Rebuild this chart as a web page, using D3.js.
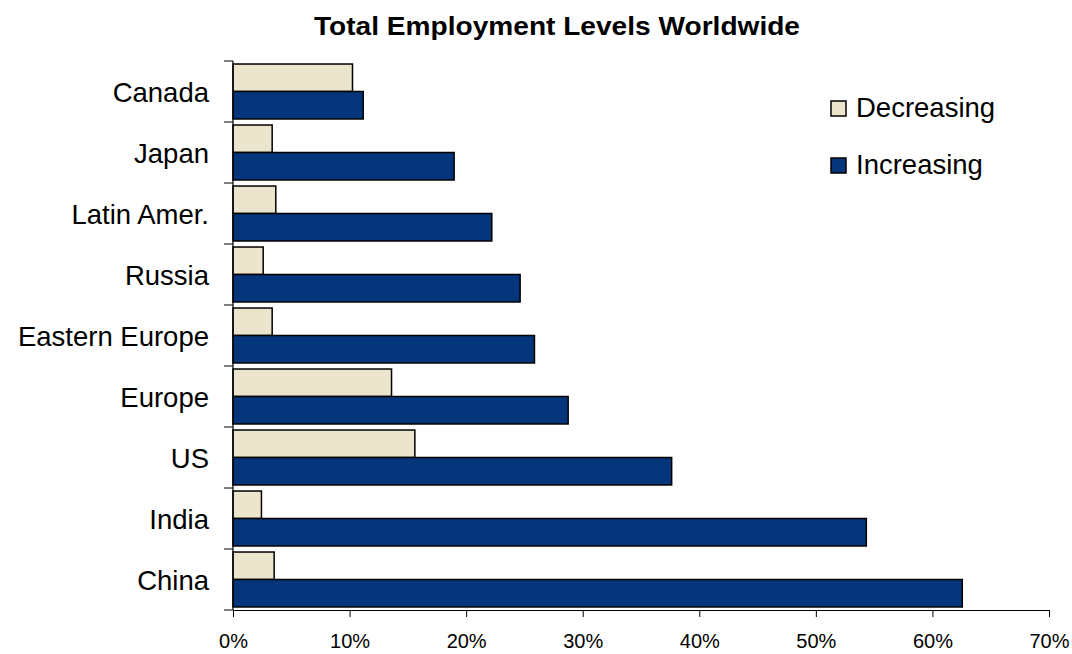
<!DOCTYPE html>
<html>
<head>
<meta charset="utf-8">
<script src="https://cdn.jsdelivr.net/npm/d3@7"></script>
<style>
  body { margin: 0; background: #fff; }
  svg { display: block; font-family: Arial, "Liberation Sans", sans-serif; }
</style>
</head>
<body>
<div id="chart"></div>
<script>
// data
const regions = ['Canada', 'Japan', 'Latin Amer.', 'Russia', 'Eastern Europe', 'Europe', 'US', 'India', 'China'];
const decreasing = [10.25, 3.36, 3.67, 2.59, 3.36, 13.6, 15.6, 2.44, 3.53];
const increasing = [11.17, 18.97, 22.2, 24.63, 25.86, 28.75, 37.63, 54.33, 62.56];
const seriesNames = ['Decreasing', 'Increasing'];
const xTicks = [0, 10, 20, 30, 40, 50, 60, 70];

const colors = {Decreasing: '#ECE5CE', Increasing: '#05357A'};

const W = 1072, H = 654;
const margin = {top: 61, right: 23, bottom: 44, left: 233};
const width = W - margin.left - margin.right,
    height = H - margin.top - margin.bottom;

const svg = d3.select('#chart')
    .append('svg')
    .attr('width', W)
    .attr('height', H);

// title
svg.append('text')
    .attr('x', 557)
    .attr('y', 35)
    .attr('text-anchor', 'middle')
    .attr('textLength', 486)
    .attr('lengthAdjust', 'spacingAndGlyphs')
    .style('font-size', '26px')
    .style('font-weight', 'bold')
    .text('Total Employment Levels Worldwide');

const g = svg.append('g')
    .attr('transform', `translate(${margin.left},${margin.top})`);

const x = d3.scaleLinear([0, 70], [0, width]);
const y = d3.scaleBand(regions, [0, height]).paddingInner(0).paddingOuter(0);
const inner = d3.scaleBand(seriesNames, [0, y.bandwidth()]).paddingInner(0).paddingOuter(0.11);

const rows = regions.map((r, i) => ({region: r, Decreasing: decreasing[i], Increasing: increasing[i]}));

const groups = g.selectAll('.grp')
    .data(rows)
    .enter()
    .append('g')
    .attr('class', 'grp')
    .attr('transform', d => `translate(0,${y(d.region)})`);

groups.selectAll('rect')
    .data(d => seriesNames.map(s => ({key: s, value: d[s]})))
    .enter()
    .append('rect')
    .attr('x', 0)
    .attr('y', d => inner(d.key))
    .attr('width', d => x(d.value))
    .attr('height', inner.bandwidth())
    .attr('fill', d => colors[d.key])
    .attr('stroke', '#000')
    .attr('stroke-width', 1.5);

// x axis
const xAxis = g.append('g')
    .attr('transform', `translate(0,${height})`)
    .call(d3.axisBottom(x).tickValues(xTicks).tickFormat(d => d + '%').tickSize(7).tickSizeOuter(0));
xAxis.select('.domain').attr('stroke', '#000').attr('stroke-width', 1.2);
xAxis.selectAll('.tick line').attr('stroke', '#000');
xAxis.selectAll('.tick text')
    .attr('y', 24)
    .style('font-size', '20px')
    .attr('fill', '#000');

// y axis: ticks at band edges, labels centred in band
const yAxis = g.append('g');
yAxis.append('line')
    .attr('x1', 0).attr('x2', 0)
    .attr('y1', 0).attr('y2', height)
    .attr('stroke', '#000').attr('stroke-width', 1.2);
yAxis.selectAll('.ytick')
    .data(regions.concat(['end']))
    .enter()
    .append('line')
    .attr('x1', -9).attr('x2', 0)
    .attr('y1', (d, i) => i < regions.length ? y(d) : height)
    .attr('y2', (d, i) => i < regions.length ? y(d) : height)
    .attr('stroke', '#000');
yAxis.selectAll('.ylab')
    .data(regions)
    .enter()
    .append('text')
    .attr('x', -24)
    .attr('y', d => y(d) + y.bandwidth() / 2 + 10)
    .attr('text-anchor', 'end')
    .style('font-size', '27.5px')
    .text(d => d);

// legend
const legend = svg.append('g');
const legendY = [101, 158];
seriesNames.forEach((s, i) => {
    legend.append('rect')
        .attr('x', 831).attr('y', legendY[i])
        .attr('width', 15).attr('height', 15)
        .attr('fill', colors[s])
        .attr('stroke', '#000').attr('stroke-width', 1.5);
    legend.append('text')
        .attr('x', 856).attr('y', legendY[i] + 16)
        .style('font-size', '27.5px')
        .text(s);
});
</script>
</body>
</html>
